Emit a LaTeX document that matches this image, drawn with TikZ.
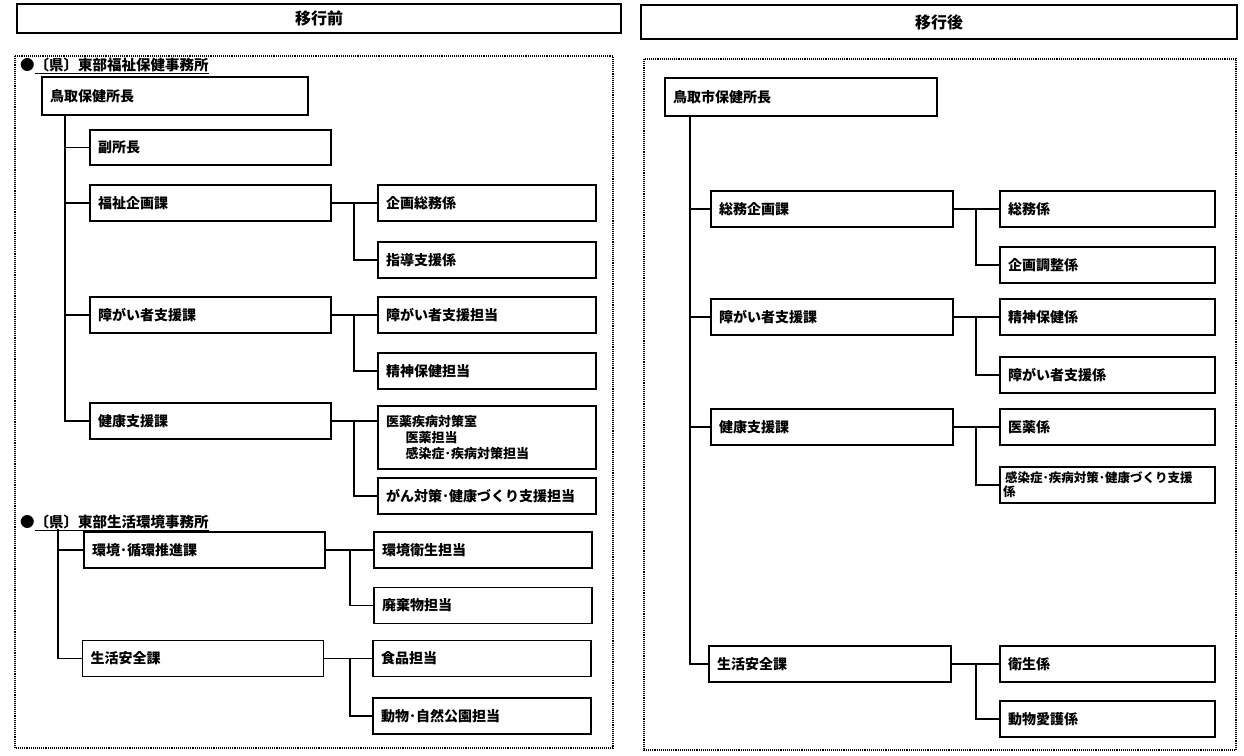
\documentclass[tikz,border=0pt]{standalone}
\usepackage{fontspec}
\setmainfont{Noto Sans CJK JP}
\newcommand{\boxfont}{\fontsize{14}{17}\selectfont\bfseries}
\newcommand{\lw}{1.1pt}

\begin{document}
\begin{tikzpicture}[x=1pt,y=-1pt,
    box/.style={draw, line width=\lw, inner xsep=8pt, inner ysep=0pt,
      minimum height=36pt, align=left, font=\boxfont},
    ka/.style={box, text width=225pt},
    kakari/.style={box, text width=202pt},
    kaR/.style={box, text width=226pt},
    kakariR/.style={box, text width=199pt},
    hdr/.style={draw, line width=\lw, font=\fontsize{16}{18}\selectfont\bfseries},
    office/.style={anchor=west, inner sep=0pt, font=\fontsize{14.5}{17}\selectfont\bfseries},
    panel/.style={densely dotted, line width=1.1pt},
    lnk/.style={line width=\lw}]
  \useasboundingbox (0,0) rectangle (1244,755);

  % headers and frames
  \node (hdrL) at (319,18.5) [hdr, minimum width=604pt, minimum height=29pt] {移行前};
  \node (hdrR) at (939,22)   [hdr, minimum width=596pt, minimum height=34pt] {移行後};
  \draw[panel] (15,56) rectangle (613,748);
  \draw[panel] (644,59) rectangle (1236,750);

  % before
  \node (officeL) at (20,66) [office] {●\underline{〔県〕東部福祉保健事務所}};
  \node (chiefL) at (175,96) [box, text width=250pt, minimum height=38pt] {鳥取保健所長};
  \node (fukusho) at (210.5,147.5) [ka, minimum height=35pt] {副所長};
  \node (fukushi) at (210.5,203) [ka] {福祉企画課};
  \node (shogaiL) at (210.5,315) [ka] {障がい者支援課};
  \node (kenkoL)  at (210.5,421) [ka] {健康支援課};
  \node (kikaku)  at (487,203) [kakari] {企画総務係};
  \node (shido)   at (487,260) [kakari] {指導支援係};
  \node (shogaitanto) at (487,315) [kakari] {障がい者支援担当};
  \node (seishinL) at (487,371) [kakari] {精神保健担当};
  \node (iyaku)   at (487,437.5) [kakari, minimum height=63pt, font=\fontsize{13}{16}\selectfont\bfseries]
    {医薬疾病対策室\\\hspace*{1.5em}医薬担当\\\hspace*{1.5em}感染症･疾病対策担当};
  \node (gan)     at (487,496) [kakari] {がん対策･健康づくり支援担当};

  \node (officeL2) at (20,523) [office] {●\underline{〔県〕東部生活環境事務所}};
  \node (kankyo)  at (204.5,550) [ka] {環境･循環推進課};
  \node (seikatsuL) at (203,658.5) [ka] {生活安全課};
  \node (eisei)   at (483,550) [kakari] {環境衛生担当};
  \node (haiki)   at (483,605.5) [kakari] {廃棄物担当};
  \node (shokuhin) at (482,658.5) [kakari] {食品担当};
  \node (dobutsuL) at (482,716) [kakari] {動物･自然公園担当};

  % after
  \node (chiefR) at (801,97) [box, text width=256pt, minimum height=38pt] {鳥取市保健所長};
  \node (soumuR)   at (832,209) [kaR] {総務企画課};
  \node (shogaiR)  at (832,317) [kaR] {障がい者支援課};
  \node (kenkoR)   at (832,427) [kaR] {健康支援課};
  \node (seikatsuR) at (830,664) [kaR] {生活安全課};
  \node (somukakari) at (1107.5,209) [kakariR] {総務係};
  \node (chosei)   at (1107.5,265) [kakariR] {企画調整係};
  \node (seishinR) at (1107.5,317) [kakariR] {精神保健係};
  \node (shogaikakari) at (1107.5,375) [kakariR] {障がい者支援係};
  \node (iyakukakari) at (1107.5,427) [kakariR] {医薬係};
  \node (kansen)   at (1107.5,485) [box, inner xsep=3pt, text width=209pt,
      font=\fontsize{12.5}{14}\selectfont\bfseries]
    {\hspace*{2pt}感染症･疾病対策･健康づくり支援\\係};
  \node (eiseikakari) at (1107.5,664) [kakariR] {衛生係};
  \node (dobutsuR) at (1107.5,719) [kakariR] {動物愛護係};

  % trunks
  \coordinate (trunkL) at (65,0);
  \coordinate (top2) at (58,529);
  \coordinate (trunkR) at (690,0);
  \coordinate (subL) at (354,0);
  \coordinate (subL2) at (350,0);
  \coordinate (subR) at (976,0);
  \draw[lnk] (chiefL.south -| trunkL) |- (kenkoL.west);
  \draw[lnk] (top2) |- (seikatsuL.west);
  \draw[lnk] (chiefR.south -| trunkR) |- (seikatsuR.west);
  \foreach \n/\t in {fukusho/trunkL, fukushi/trunkL, shogaiL/trunkL, kankyo/top2,
      soumuR/trunkR, shogaiR/trunkR, kenkoR/trunkR}
    \draw[lnk] (\n.west) -- (\n.west -| \t);

  % sub branches
  \foreach \p/\a/\b/\s in {fukushi/kikaku/shido/subL, shogaiL/shogaitanto/seishinL/subL,
      kenkoL/iyaku/gan/subL, kankyo/eisei/haiki/subL2, seikatsuL/shokuhin/dobutsuL/subL2,
      soumuR/somukakari/chosei/subR, shogaiR/seishinR/shogaikakari/subR,
      kenkoR/iyakukakari/kansen/subR, seikatsuR/eiseikakari/dobutsuR/subR} {
    \draw[lnk] (\p.east) -- (\p.east -| \a.west);
    \draw[lnk] (\p.east -| \s) |- (\b.west);
  }
\end{tikzpicture}
\end{document}
